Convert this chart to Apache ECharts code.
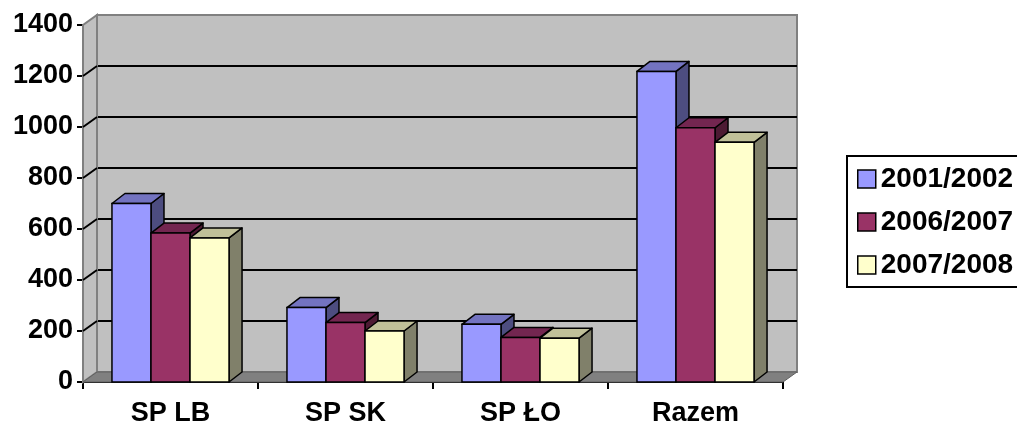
<!DOCTYPE html>
<html>
<head>
<meta charset="utf-8">
<script src="https://cdn.jsdelivr.net/npm/echarts@6/dist/echarts.min.js"></script>
<style>
html, body { margin: 0; padding: 0; background: #fff; }
#main { width: 1017px; height: 423px; }
</style>
</head>
<body>
<div id="main"></div>
<script>
// dane
var categories = ['SP LB', 'SP SK', 'SP ŁO', 'Razem'];
var seriesNames = ['2001/2002', '2006/2007', '2007/2008'];
var values2001 = [700, 292, 226, 1218];
var values2006 = [584, 233, 175, 997];
var values2007 = [565, 200, 172, 940];
var yTicks = [0, 200, 400, 600, 800, 1000, 1200, 1400];

var frontColors = ['#9999ff', '#993366', '#ffffcc'];
var topColors = ['#7373c0', '#732650', '#c0c099'];
var sideColors = ['#4d4d80', '#4d1a33', '#80806a'];
var DX = 14, DY = -10;
var FONT = 'Liberation Sans, Arial, sans-serif';

var chart = echarts.init(document.getElementById('main'));

// sciany wykresu (bok + podloga + ukosne linie siatki)
function wallRender(params, api) {
  var band = api.size([1, 0])[0];
  var v = api.value(1);
  var xl = api.coord([0, 0])[0] - band / 2;
  var xr = api.coord([categories.length - 1, 0])[0] + band / 2;
  var y0 = api.coord([0, 0])[1];
  var yTop = api.coord([0, yTicks[yTicks.length - 1]])[1];
  var y = api.coord([0, v])[1];
  var children = [];
  if (params.dataIndex === 0) {
    children.push({
      type: 'polygon',
      shape: { points: [[xl, y0], [xl, yTop], [xl + DX, yTop + DY], [xl + DX, y0 + DY]] },
      style: { fill: '#c0c0c0', stroke: '#808080', lineWidth: 2 }
    });
    children.push({
      type: 'polygon',
      shape: { points: [[xl, y0], [xr, y0], [xr + DX, y0 + DY], [xl + DX, y0 + DY]] },
      style: { fill: '#808080', stroke: '#606060', lineWidth: 1 }
    });
  } else if (params.dataIndex < yTicks.length - 1) {
    children.push({
      type: 'line',
      shape: { x1: xl, y1: y, x2: xl + DX, y2: y + DY },
      style: { stroke: '#000', lineWidth: 2 }
    });
  }
  return { type: 'group', children: children };
}

function barRender(idx) {
  return function (params, api) {
    var band = api.size([1, 0])[0];
    var w = band * 0.223;
    var base = api.coord([api.value(0), 0]);
    var top = api.coord([api.value(0), api.value(1)]);
    var x0 = base[0] - 1.5 * w + idx * w;
    var x1 = x0 + w;
    var yb = base[1], yt = top[1];
    var dx = 13, dy = -10;
    return {
      type: 'group',
      children: [
        {
          type: 'polygon',
          shape: { points: [[x1, yt], [x1 + dx, yt + dy], [x1 + dx, yb + dy], [x1, yb]] },
          style: { fill: sideColors[idx], stroke: '#000', lineWidth: 1.5, lineJoin: 'round' }
        },
        {
          type: 'polygon',
          shape: { points: [[x0, yt], [x0 + dx, yt + dy], [x1 + dx, yt + dy], [x1, yt]] },
          style: { fill: topColors[idx], stroke: '#000', lineWidth: 1.5, lineJoin: 'round' }
        },
        {
          type: 'rect',
          shape: { x: x0, y: yt, width: w, height: yb - yt },
          style: { fill: frontColors[idx], stroke: '#000', lineWidth: 1.5 }
        }
      ]
    };
  };
}

function toPairs(arr) {
  return arr.map(function (v, i) { return [i, v]; });
}

var allValues = [values2001, values2006, values2007];

var series = [{
  type: 'custom',
  name: 'walls',
  xAxisIndex: 1,
  yAxisIndex: 1,
  renderItem: wallRender,
  data: yTicks.map(function (v) { return [0, v]; }),
  silent: true,
  z: 1
}];
allValues.forEach(function (vals, i) {
  series.push({
    type: 'custom',
    name: seriesNames[i],
    xAxisIndex: 1,
    yAxisIndex: 1,
    renderItem: barRender(i),
    itemStyle: { color: frontColors[i], borderColor: '#000', borderWidth: 1.5 },
    encode: { x: 0, y: 1 },
    data: toPairs(vals),
    z: 3
  });
});

var option = {
  animation: false,
  backgroundColor: '#fff',
  textStyle: { fontFamily: FONT },
  grid: [
    // sciana tylna
    { left: 97, right: 220, top: 15, bottom: 51, show: true, outerBoundsMode: 'none',
      backgroundColor: '#c0c0c0', borderColor: '#808080', borderWidth: 2 },
    // plaszczyzna przednia
    { left: 83, right: 234, top: 25, bottom: 41, outerBoundsMode: 'none' }
  ],
  xAxis: [
    { gridIndex: 0, type: 'category', data: categories, show: false },
    {
      gridIndex: 1, type: 'category', data: categories,
      axisLine: { lineStyle: { color: '#000', width: 2 } },
      axisTick: { show: true, length: 7, lineStyle: { color: '#000', width: 2 } },
      axisLabel: { color: '#000', fontSize: 27, fontWeight: 'bold', fontFamily: FONT, margin: 18 }
    }
  ],
  yAxis: [
    {
      gridIndex: 0, type: 'value', min: 0, max: 1400, interval: 200,
      axisLine: { show: false }, axisTick: { show: false }, axisLabel: { show: false },
      splitLine: { show: true, showMinLine: false, showMaxLine: false,
        lineStyle: { color: '#000', width: 2 } }
    },
    {
      gridIndex: 1, type: 'value', min: 0, max: 1400, interval: 200,
      axisLine: { show: true, lineStyle: { color: '#000', width: 2 } },
      axisTick: { show: true, length: 6, lineStyle: { color: '#000', width: 2 } },
      axisLabel: { color: '#000', fontSize: 27, fontWeight: 'bold', fontFamily: FONT, margin: 10,
        formatter: function (v) { return String(v); } },
      splitLine: { show: false }
    }
  ],
  legend: {
    orient: 'vertical',
    left: 847,
    top: 156,
    data: seriesNames,
    icon: 'rect',
    itemWidth: 18,
    itemHeight: 18,
    itemGap: 15,
    padding: [9, 12, 8, 10],
    borderColor: '#000',
    borderWidth: 2,
    itemStyle: { borderColor: '#000', borderWidth: 1.5 },
    textStyle: { color: '#000', fontSize: 28, fontWeight: 'bold', fontFamily: FONT, lineHeight: 25 }
  },
  series: series
};

chart.setOption(option);
</script>
</body>
</html>
